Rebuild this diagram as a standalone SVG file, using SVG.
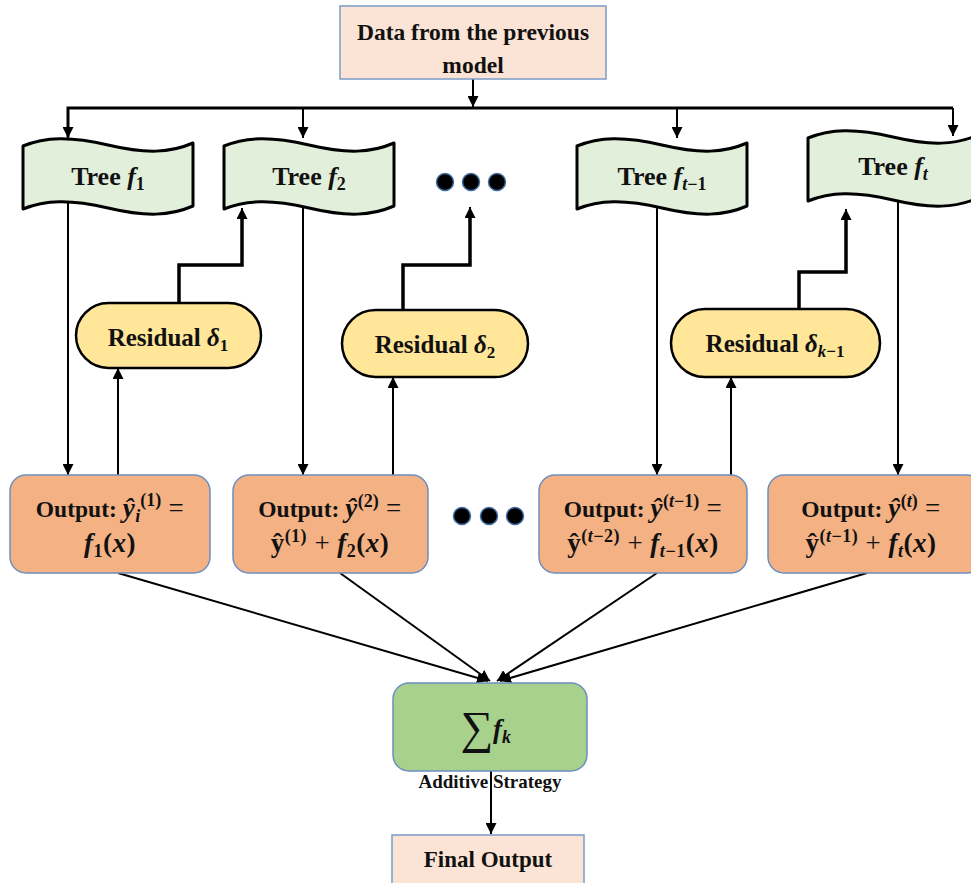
<svg xmlns="http://www.w3.org/2000/svg" width="971" height="883" viewBox="0 0 971 883">
  <style>
    text { font-family: "Liberation Serif", "DejaVu Serif", serif; font-weight: bold; fill: #111; }
    .m { font-style: italic; }
    .thin { font-weight: normal; }
    .peach { fill: #fbe4d5; stroke: #7a9cc6; stroke-width: 1.5; }
    .out { fill: #f4b183; stroke: #6b8fbf; stroke-width: 1.5; }
    .sum { fill: #a9d18e; stroke: #6b8fbf; stroke-width: 1.5; }
    .tree { fill: #e2efda; stroke: #000; stroke-width: 3; stroke-linejoin: round; }
    .res { fill: #ffe699; stroke: #000; stroke-width: 2.5; }
    .ln { fill: none; stroke: #000; stroke-width: 2; }
    .bus { fill: none; stroke: #000; stroke-width: 3; }
    .elb { fill: none; stroke: #000; stroke-width: 3.5; stroke-linejoin: miter; }
    .dot { fill: #000; stroke: #3f6ea3; stroke-width: 1.5; }
    .eq { font-size: 27px; letter-spacing: 0.5px; }
    .sp { font-size: 18px; }
  </style>
  <defs>
    <marker id="ah" viewBox="0 0 10 10" refX="10" refY="5" markerWidth="11" markerHeight="11" markerUnits="userSpaceOnUse" orient="auto">
      <path d="M0,0 L10,5 L0,10 Z" fill="#000"/>
    </marker>
    <!-- punched-tape outline for the tree nodes -->
    <path id="tape" d="M0,6 C22,-3 47,-4 85,5 S147,13 170,3 L170,66 C147,76 123,77 85,68 C47,59 22,60 0,69 Z"/>
  </defs>

  <!-- connectors -->
  <g id="connectors">
    <line class="ln" x1="473" y1="79" x2="473" y2="107" marker-end="url(#ah)"/>
    <polyline class="bus" points="68,137 68,108 953,108"/>
    <line class="ln" x1="68" y1="108" x2="68" y2="138" marker-end="url(#ah)"/>
    <line class="ln" x1="303" y1="108" x2="303" y2="138" marker-end="url(#ah)"/>
    <line class="ln" x1="677" y1="108" x2="677" y2="138" marker-end="url(#ah)"/>
    <line class="ln" x1="953" y1="108" x2="953" y2="136" marker-end="url(#ah)"/>

    <line class="ln" x1="68" y1="200" x2="68" y2="475" marker-end="url(#ah)"/>
    <line class="ln" x1="303" y1="200" x2="303" y2="475" marker-end="url(#ah)"/>
    <line class="ln" x1="657" y1="200" x2="657" y2="475" marker-end="url(#ah)"/>
    <line class="ln" x1="898" y1="195" x2="898" y2="475" marker-end="url(#ah)"/>

    <line class="ln" x1="118" y1="475" x2="118" y2="368" marker-end="url(#ah)"/>
    <line class="ln" x1="393" y1="475" x2="393" y2="377" marker-end="url(#ah)"/>
    <line class="ln" x1="731" y1="475" x2="731" y2="377" marker-end="url(#ah)"/>

    <polyline class="elb" points="179,303 179,265 242,265 242,218"/>
    <line class="ln" x1="242" y1="220" x2="242" y2="208" marker-end="url(#ah)"/>
    <polyline class="elb" points="403,310 403,265 470,265 470,218"/>
    <line class="ln" x1="470" y1="220" x2="470" y2="207" marker-end="url(#ah)"/>
    <polyline class="elb" points="799,309 799,272 846,272 846,220"/>
    <line class="ln" x1="846" y1="222" x2="846" y2="209" marker-end="url(#ah)"/>

    <line class="ln" x1="118" y1="573" x2="488" y2="681" marker-end="url(#ah)"/>
    <line class="ln" x1="340" y1="573" x2="490" y2="681" marker-end="url(#ah)"/>
    <line class="ln" x1="657" y1="573" x2="497" y2="681" marker-end="url(#ah)"/>
    <line class="ln" x1="867" y1="573" x2="500" y2="681" marker-end="url(#ah)"/>

    <line class="ln" x1="491" y1="771" x2="491" y2="834" marker-end="url(#ah)"/>
  </g>

  <!-- source data -->
  <g id="data">
    <rect class="peach" x="340" y="6" width="266" height="73"/>
    <text x="473" y="40" font-size="23.5" text-anchor="middle">Data from the previous</text>
    <text x="473" y="73" font-size="23.5" text-anchor="middle">model</text>
  </g>

  <!-- trees -->
  <g id="tree1">
    <use href="#tape" class="tree" transform="translate(23,140)"/>
    <text x="108" y="185" font-size="26" text-anchor="middle">Tree <tspan class="m">f</tspan><tspan font-size="18" dy="5">1</tspan></text>
  </g>
  <g id="tree2">
    <use href="#tape" class="tree" transform="translate(224,140)"/>
    <text x="309" y="185" font-size="26" text-anchor="middle">Tree <tspan class="m">f</tspan><tspan font-size="18" dy="5">2</tspan></text>
  </g>
  <g id="tree-t-1">
    <use href="#tape" class="tree" transform="translate(577,140)"/>
    <text x="662" y="185" font-size="26" text-anchor="middle">Tree <tspan class="m">f</tspan><tspan font-size="18" dy="5"><tspan class="m">t</tspan>−1</tspan></text>
  </g>
  <g id="tree-t">
    <use href="#tape" class="tree" transform="translate(808,132)"/>
    <text x="893" y="175" font-size="26" text-anchor="middle">Tree <tspan class="m">f</tspan><tspan font-size="18" dy="5" class="m">t</tspan></text>
  </g>

  <!-- ellipsis dots -->
  <g id="dots-top">
    <circle class="dot" cx="445" cy="182" r="8.5"/>
    <circle class="dot" cx="471" cy="182" r="8.5"/>
    <circle class="dot" cx="497" cy="182" r="8.5"/>
  </g>
  <g id="dots-mid">
    <circle class="dot" cx="462" cy="516" r="8.5"/>
    <circle class="dot" cx="489" cy="516" r="8.5"/>
    <circle class="dot" cx="515" cy="516" r="8.5"/>
  </g>

  <!-- residuals -->
  <g id="res1">
    <rect class="res" x="76" y="303" width="185" height="65" rx="32.5"/>
    <text x="168" y="346" font-size="25" text-anchor="middle">Residual  <tspan class="m">δ</tspan><tspan font-size="17" dy="5">1</tspan></text>
  </g>
  <g id="res2">
    <rect class="res" x="342" y="310" width="186" height="67" rx="33.5"/>
    <text x="435" y="353" font-size="25" text-anchor="middle">Residual  <tspan class="m">δ</tspan><tspan font-size="17" dy="5">2</tspan></text>
  </g>
  <g id="res-k-1">
    <rect class="res" x="671" y="309" width="209" height="68" rx="34"/>
    <text x="775" y="352" font-size="25" text-anchor="middle">Residual  <tspan class="m">δ</tspan><tspan font-size="17" dy="5"><tspan class="m">k</tspan>−1</tspan></text>
  </g>

  <!-- outputs -->
  <g id="out1">
    <rect class="out" x="10" y="475" width="200" height="98" rx="16"/>
    <text x="110" y="517" font-size="23.5" text-anchor="middle">Output: <tspan class="m eq">ŷ</tspan><tspan class="m sp" dy="5">i</tspan><tspan class="sp" dy="-16">(1)</tspan><tspan class="thin eq" dy="11"> =</tspan></text>
    <text x="110" y="552" class="eq" text-anchor="middle"><tspan class="m">f</tspan><tspan class="sp" dy="5">1</tspan><tspan dy="-5">(</tspan><tspan class="m">x</tspan>)</text>
  </g>
  <g id="out2">
    <rect class="out" x="233" y="475" width="195" height="98" rx="16"/>
    <text x="330" y="517" font-size="23.5" text-anchor="middle">Output: <tspan class="m eq">ŷ</tspan><tspan class="sp" dy="-10">(2)</tspan><tspan class="thin eq" dy="10"> =</tspan></text>
    <text x="330" y="552" class="eq" text-anchor="middle">ŷ<tspan class="sp" dy="-10">(1)</tspan><tspan class="thin" dy="10"> + </tspan><tspan class="m">f</tspan><tspan class="sp" dy="5">2</tspan><tspan dy="-5">(</tspan><tspan class="m">x</tspan>)</text>
  </g>
  <g id="out-t-1">
    <rect class="out" x="539" y="475" width="208" height="98" rx="16"/>
    <text x="643" y="517" font-size="23.5" text-anchor="middle">Output: <tspan class="m eq">ŷ</tspan><tspan class="sp" dy="-10">(<tspan class="m">t</tspan>−1)</tspan><tspan class="thin eq" dy="10"> =</tspan></text>
    <text x="643" y="552" class="eq" text-anchor="middle">ŷ<tspan class="sp" dy="-10">(<tspan class="m">t</tspan>−2)</tspan><tspan class="thin" dy="10"> + </tspan><tspan class="m">f</tspan><tspan class="sp" dy="5"><tspan class="m">t</tspan>−1</tspan><tspan dy="-5">(</tspan><tspan class="m">x</tspan>)</text>
  </g>
  <g id="out-t">
    <rect class="out" x="768" y="475" width="215" height="98" rx="16"/>
    <text x="871" y="517" font-size="23.5" text-anchor="middle">Output: <tspan class="m eq">ŷ</tspan><tspan class="sp" dy="-10">(<tspan class="m">t</tspan>)</tspan><tspan class="thin eq" dy="10"> =</tspan></text>
    <text x="871" y="552" class="eq" text-anchor="middle">ŷ<tspan class="sp" dy="-10">(<tspan class="m">t</tspan>−1)</tspan><tspan class="thin" dy="10"> + </tspan><tspan class="m">f</tspan><tspan class="sp m" dy="5">t</tspan><tspan dy="-5">(</tspan><tspan class="m">x</tspan>)</text>
  </g>

  <!-- additive combination -->
  <g id="sum">
    <rect class="sum" x="393" y="683" width="194" height="88" rx="16"/>
    <text x="477" y="743" font-size="46" text-anchor="middle" class="thin">∑</text>
    <text x="493" y="738" font-size="27" class="m">f<tspan font-size="18" dy="5">k</tspan></text>
    <text x="490" y="788" font-size="19" text-anchor="middle">Additive Strategy</text>
  </g>

  <g id="final">
    <rect class="peach" x="392" y="835" width="192" height="60"/>
    <text x="488" y="867" font-size="23" text-anchor="middle">Final Output</text>
  </g>
</svg>
